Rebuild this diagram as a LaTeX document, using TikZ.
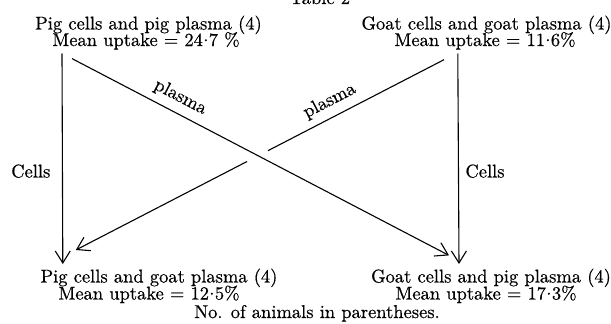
\documentclass[tikz,border=0pt]{standalone}
\usepackage{fontspec}
\setmainfont{lmroman10-regular.otf}[FakeBold=0.5]
\usetikzlibrary{arrows.meta,calc}
\newcommand{\mdt}{\kern0.02em\raisebox{0.6ex}{.}\kern0.02em}
\begin{document}
\begin{tikzpicture}[x=1pt,y=-1pt,
  txt/.style={font=\fontsize{18.5}{20}\selectfont, inner sep=0pt, anchor=base},
  conn/.style={line width=1.1pt, -{Straight Barb[length=12pt,width=15pt,line width=1.1pt]}},
  plain/.style={line width=1.1pt},
  lbl/.style={font=\fontsize{18.5}{20}\selectfont, inner sep=0pt, sloped, above=7pt}]
\useasboundingbox (0,0) rectangle (611,324);
% texts
\node[txt] (title) at (320,4) {Table 2};
\node[txt] (tl1) at (148.5,29.5) {Pig cells and pig plasma (4)};
\node[txt] (tl2) at (146,46) {Mean uptake = 24\mdt7 \%};
\node[txt] (tr1) at (486.5,29.5) {Goat cells and goat plasma (4)};
\node[txt] (tr2) at (485,46) {Mean uptake = 11\mdt6\%};
\node[txt] (bl1) at (159,282.5) {Pig cells and goat plasma (4)};
\node[txt] (bl2) at (149,299.5) {Mean uptake = 12\mdt5\%};
\node[txt] (br1) at (491,282.5) {Goat cells and pig plasma (4)};
\node[txt] (br2) at (486,299.5) {Mean uptake = 17\mdt3\%};
\node[txt] (foot) at (317,318) {No. of animals in parentheses.};
\node[txt] (cellsL) at (30.8,177.5) {Cells};
\node[txt] (cellsR) at (485,177.5) {Cells};
% connector ends
\coordinate (vlS) at (62,53.5);
\coordinate (vlE) at (62.8,264);
\coordinate (vrS) at (457.8,53.5);
\coordinate (vrE) at (459,264);
\coordinate (d1S) at (72,58.6);
\coordinate (d1E) at (449,255.4);
\coordinate (d2S) at (444,59.7);
\coordinate (d2E) at (75.8,250);
\coordinate (gapA) at ($(d2S)!0.478!(d2E)$);
\coordinate (gapB) at ($(d2S)!0.535!(d2E)$);
% connectors
\draw[conn] (vlS) -- (vlE);
\draw[conn] (vrS) -- (vrE);
\draw[conn] (d1S) -- node[lbl, pos=0.268] (p1) {plasma} (d1E);
\draw[plain] (d2S) -- node[lbl, pos=0.608] (p2) {plasma} (gapA);
\draw[conn] (gapB) -- (d2E);
\end{tikzpicture}
\end{document}
